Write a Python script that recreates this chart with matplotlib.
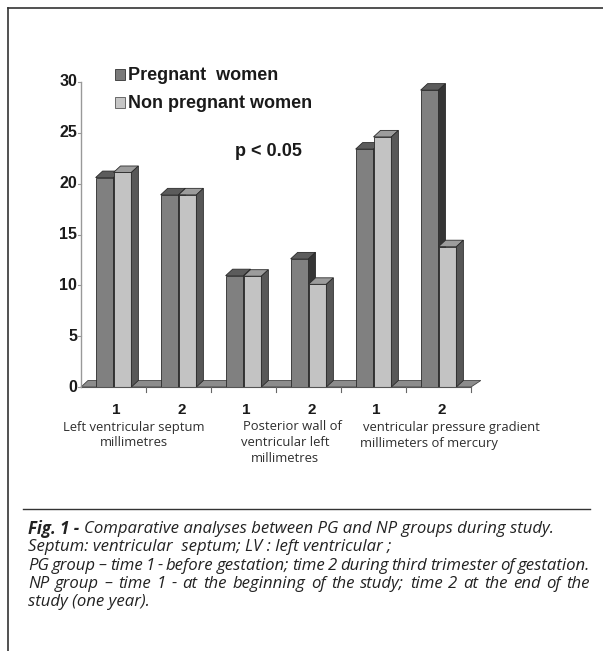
import matplotlib
matplotlib.use("Agg")
import matplotlib.pyplot as plt
from matplotlib.patches import Polygon, Rectangle
from matplotlib.lines import Line2D

# values (front face tops)
times = ["1", "2", "1", "2", "1", "2"]
pregnant = [20.6, 18.9, 10.95, 12.6, 23.4, 29.2]
non_pregnant = [21.1, 18.9, 10.9, 10.1, 24.6, 13.8]
yticks = [0, 5, 10, 15, 20, 25, 30]
series_names = ["Pregnant  women", "Non pregnant women"]

caption = [
    ("Comparative analyses between PG and NP groups during study.", False),
    ("Septum: ventricular  septum; LV : left ventricular ;", False),
    ("PG group \u2013 time 1 -  before gestation; time 2 during  third trimester of gestation.", True),
    ("NP group \u2013 time 1 - at the beginning of the study; time 2 at the end of the", True),
    ("study (one year).", False),
]

W, H = 603, 651
def fx(px):
    return px / W
def fy(py):
    return 1 - py / H

fig = plt.figure(figsize=(W / 100, H / 100), dpi=100)
ax = fig.add_axes([fx(81), fy(387), 390 / W, 305 / H])
ax.set_xlim(0, 6)
ax.set_ylim(0, 30)
ax.axis("off")

BOLD = "Liberation Sans"
dx = 7 / 65.0
dy = 6.5 * 30 / 305.0
w = 0.275
edge = "#2b2b2b"

# floor
ax.add_patch(Polygon([(0, 0), (6, 0), (6 + dx * 1.4, dy), (dx, dy)], closed=True,
                     facecolor="#8c8c8c", edgecolor="#444444", lw=0.6, clip_on=False))
# axis lines
ax.add_line(Line2D([0, 0], [0, 30], color="#999999", lw=1.0, clip_on=False))
ax.add_line(Line2D([0, 6], [0, 0], color="#555555", lw=0.8, clip_on=False))
for v in yticks:
    ax.add_line(Line2D([-0.05, 0], [v, v], color="#999999", lw=0.8, clip_on=False))
    ax.text(-0.06, v, str(v), ha="right", va="center", fontsize=11.5,
            fontweight="bold", family=BOLD, color="#1a1a1a")
for k in range(1, 7):
    ax.add_line(Line2D([k, k], [0, -0.45], color="#666666", lw=0.8, clip_on=False))

def bar3d(x0, h, front, top, side):
    ax.add_patch(Rectangle((x0, 0), w, h, facecolor=front, edgecolor=edge, lw=0.6, clip_on=False))
    ax.add_patch(Polygon([(x0, h), (x0 + w, h), (x0 + w + dx, h + dy), (x0 + dx, h + dy)],
                         closed=True, facecolor=top, edgecolor=edge, lw=0.6, clip_on=False))
    ax.add_patch(Polygon([(x0 + w, 0), (x0 + w + dx, dy), (x0 + w + dx, h + dy), (x0 + w, h)],
                         closed=True, facecolor=side, edgecolor=edge, lw=0.6, clip_on=False))

for i in range(len(times)):
    c = i + 0.5
    bar3d(c - w, pregnant[i], "#808080", "#5c5c5c", "#353535")
    bar3d(c, non_pregnant[i], "#c3c3c3", "#9c9c9c", "#575757")

# category labels under the axis
for i, t in enumerate(times):
    fig.text(fx(81 + 65 * (i + 0.5) + 3), fy(410), t, ha="center", va="center",
             fontsize=11, fontweight="bold", family=BOLD, color="#1a1a1a")

glab = dict(fontsize=9.4, family="Open Sans", color="#2e2e2e", va="center")
fig.text(fx(134), fy(427), "Left ventricular septum", ha="center", **glab)
fig.text(fx(134), fy(443), "millimetres", ha="center", **glab)
fig.text(fx(292), fy(427), "Posterior wall of", ha="center", **glab)
fig.text(fx(285), fy(443), "ventricular left", ha="center", **glab)
fig.text(fx(285), fy(459), "millimetres", ha="center", **glab)
fig.text(fx(363), fy(427), "ventricular pressure gradient", ha="left", **glab)
fig.text(fx(360), fy(443), "millimeters of mercury", ha="left", **glab)

# legend
fig.patches.append(Rectangle((fx(115), fy(80)), 10 / W, 11 / H, transform=fig.transFigure,
                             facecolor="#7a7a7a", edgecolor="#333333", lw=0.6))
fig.patches.append(Rectangle((fx(115), fy(108)), 10 / W, 11 / H, transform=fig.transFigure,
                             facecolor="#c6c6c6", edgecolor="#555555", lw=0.6))
fig.text(fx(128), fy(75), series_names[0], ha="left", va="center", fontsize=13,
         fontweight="bold", family=BOLD, color="#1a1a1a")
fig.text(fx(128), fy(103), series_names[1], ha="left", va="center", fontsize=13,
         fontweight="bold", family=BOLD, color="#1a1a1a")
fig.text(fx(235), fy(152), "p < 0.05", ha="left", va="center", fontsize=13,
         fontweight="bold", family=BOLD, color="#1a1a1a")

# page frame lines
fig.add_artist(Line2D([fx(8), fx(603)], [fy(7.5), fy(7.5)], color="#333333", lw=1.2))
fig.add_artist(Line2D([fx(8), fx(8)], [fy(7.5), fy(651)], color="#333333", lw=1.2))
fig.add_artist(Line2D([fx(23), fx(590)], [fy(509), fy(509)], color="#333333", lw=1.0))

# caption: size chosen so the first line ends where it does in the original
renderer = fig.canvas.get_renderer()
left, right, first_end = 28, 590, 552
cap = dict(family="Open Sans", style="italic", color="#222222", va="center")

def width_of(s, size, **kw):
    t = fig.text(0, 0, s, fontsize=size, **cap, **kw)
    wd = t.get_window_extent(renderer).width
    t.remove()
    return wd

size = 10.0
natural = width_of("Fig. 1 - ", size, fontweight="bold") + width_of(caption[0][0], size)
size *= (first_end - left) / natural

for n, (line, justify) in enumerate(caption):
    y = fy(529 + 18.3 * n)
    x = left
    if n == 0:
        t = fig.text(fx(x), y, "Fig. 1 - ", ha="left", fontweight="bold", fontsize=size, **cap)
        x += t.get_window_extent(renderer).width
    if not justify:
        fig.text(fx(x), y, line, ha="left", fontsize=size, **cap)
        continue
    words = line.split()
    s = size
    widths = [width_of(wd, s) for wd in words]
    min_gap = 0.22 * s
    room = right - x - min_gap * (len(words) - 1)
    if sum(widths) > room:
        s *= room / sum(widths)
        widths = [width_of(wd, s) for wd in words]
    gap = (right - x - sum(widths)) / (len(words) - 1)
    for wd_text, wd in zip(words, widths):
        fig.text(fx(x), y, wd_text, ha="left", fontsize=s, **cap)
        x += wd + gap

fig.savefig("out.png", dpi=100)
